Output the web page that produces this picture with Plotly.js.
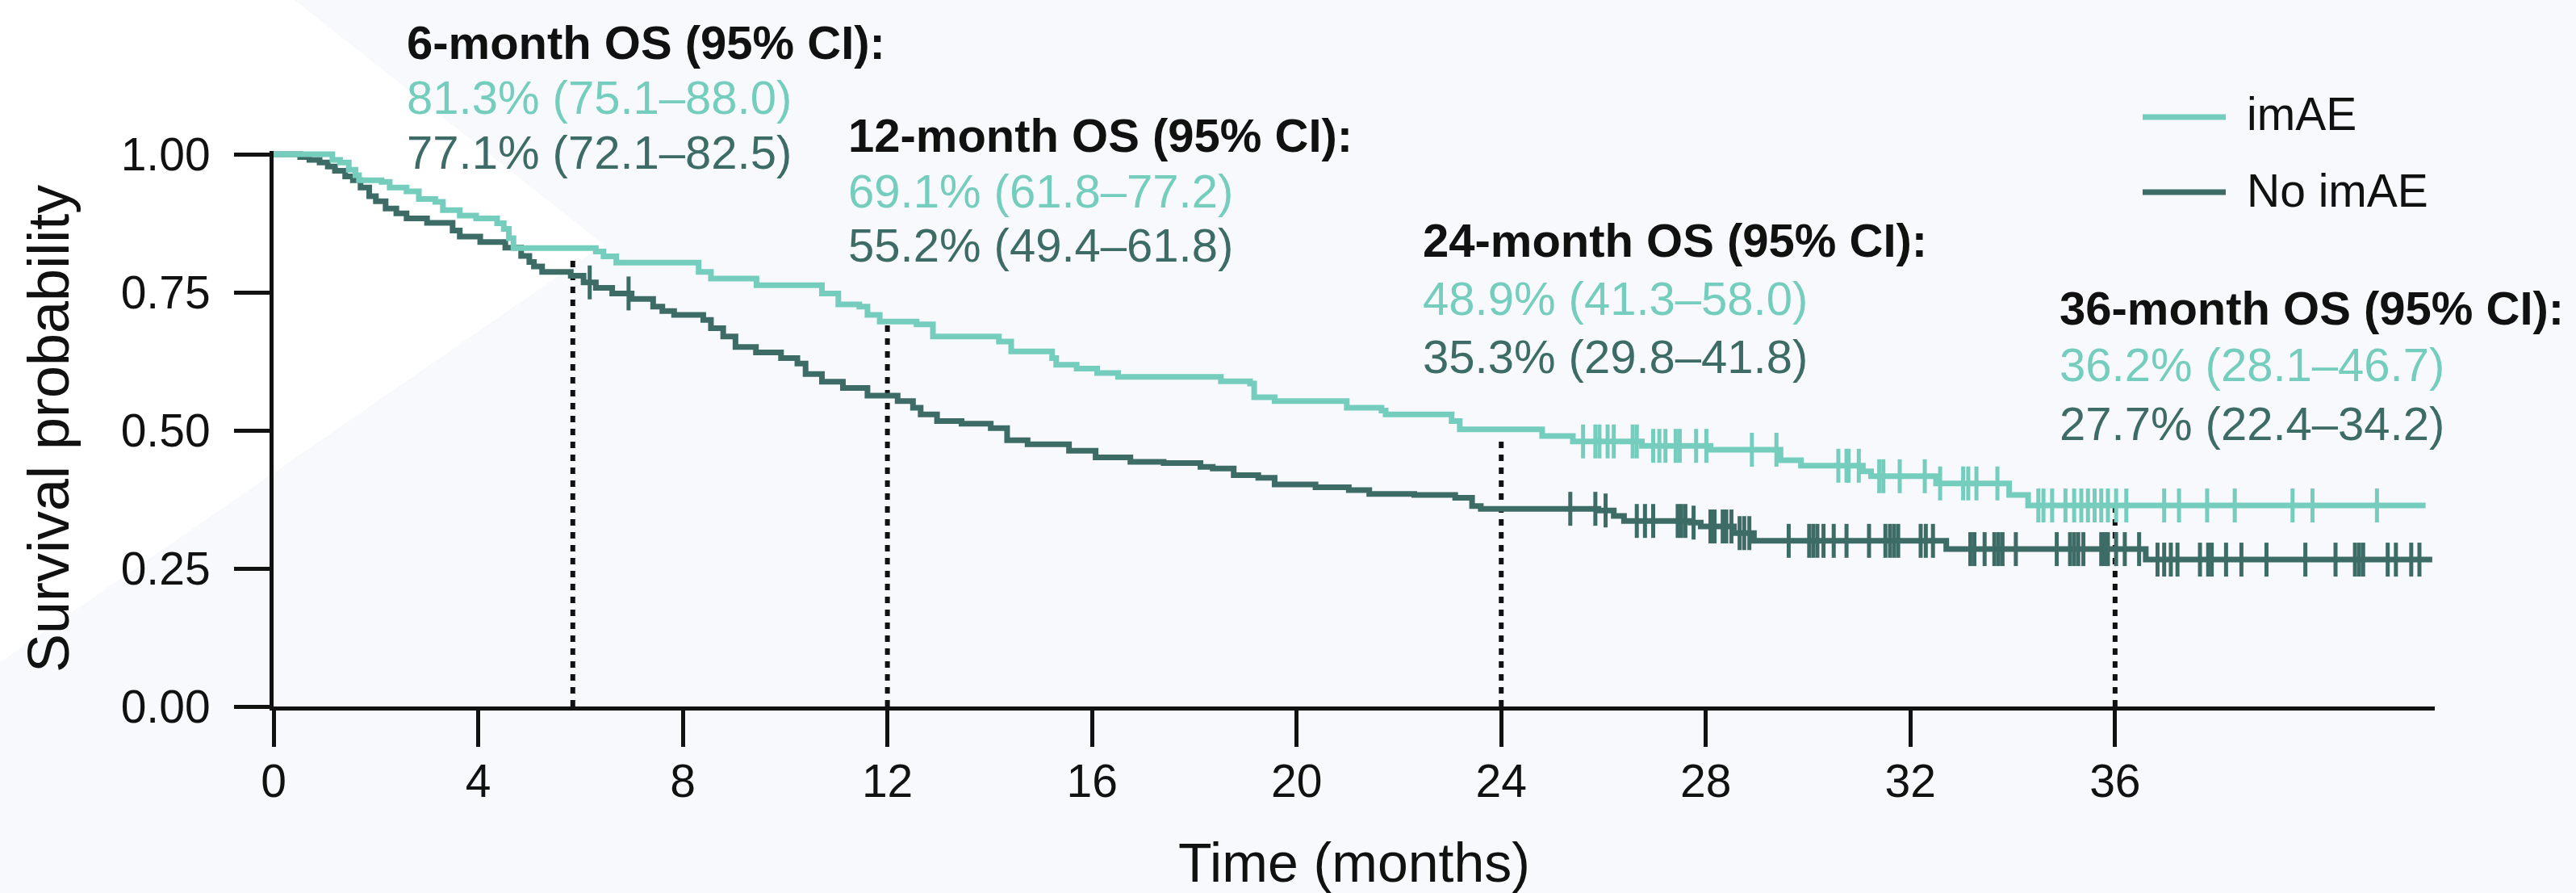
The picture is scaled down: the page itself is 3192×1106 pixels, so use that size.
<!DOCTYPE html>
<html>
<head>
<meta charset="utf-8">
<script src="https://cdn.plot.ly/plotly-3.0.1.min.js"></script>
<style>
  html, body { margin: 0; padding: 0; background: #f8f9fc; }
  #chart { width: 3192px; height: 1106px; }
</style>
</head>
<body>
<div id="chart"></div>
<script>
// ---------------- DATA ----------------
const xTickVals = [0, 4, 8, 12, 16, 20, 24, 28, 32, 36];
const xTickText = ['0', '4', '8', '12', '16', '20', '24', '28', '32', '36'];
const yTickVals = [0, 0.25, 0.5, 0.75, 1.0];
const yTickText = ['0.00', '0.25', '0.50', '0.75', '1.00'];

const seriesNames = ['imAE', 'No imAE'];

// Kaplan-Meier step points, imAE
const imaeTime = [0, 1.15, 1.3, 1.47, 1.6, 1.67, 2.11, 2.27, 2.6, 2.84, 3.16, 3.31, 3.64, 3.96, 4.37, 4.5, 4.6, 4.69,
  6.3, 6.45, 6.7, 8.31, 8.55, 9.44, 10.72, 11.04, 11.45, 11.61, 11.85, 12.57, 12.89, 14.18, 14.42, 15.22, 15.3, 15.7,
  16.1, 16.51, 18.52, 19.09, 19.17, 19.57, 20.98, 21.66, 21.74, 23.03, 23.19, 24.8, 25.4, 26.75, 28.09, 29.46, 29.86,
  31.07, 31.23, 32.5, 33.93, 34.3, 42.07];
const imaeSurv = [1.0, 0.99, 0.985, 0.972, 0.962, 0.953, 0.950, 0.940, 0.933, 0.919, 0.914, 0.899, 0.889, 0.884, 0.875, 0.865, 0.848, 0.830,
  0.824, 0.815, 0.804, 0.787, 0.775, 0.763, 0.748, 0.728, 0.724, 0.709, 0.697, 0.692, 0.670, 0.661, 0.643, 0.631, 0.619, 0.612,
  0.604, 0.597, 0.589, 0.585, 0.560, 0.553, 0.541, 0.536, 0.529, 0.517, 0.502, 0.490, 0.480, 0.472, 0.465, 0.446, 0.436,
  0.426, 0.417, 0.404, 0.383, 0.364, 0.364];

// Kaplan-Meier step points, No imAE
const noimaeTime = [0, 0.52, 0.7, 0.9, 1.06, 1.2, 1.4, 1.55, 1.7, 1.87, 2.0, 2.19, 2.4, 2.6, 3.0, 3.5, 3.64, 4.04, 4.53, 4.84,
  5.0, 5.09, 5.25, 5.81, 6.06, 6.3, 6.62, 7.0, 7.42, 7.6, 7.83, 8.4, 8.55, 8.79, 9.03, 9.43, 9.92, 10.24, 10.4, 10.72,
  11.13, 11.61, 12.2, 12.5, 12.65, 12.97, 13.45, 14.02, 14.34, 14.74, 15.55, 16.07, 16.75, 17.4, 18.12, 18.36, 18.77, 19.25, 19.57, 20.37,
  21.02, 21.42, 22.3, 23.1, 23.43, 23.6, 25.9, 26.2, 26.4, 27.7, 27.9, 28.55, 28.94, 32.7, 36.6, 42.2];
const noimaeSurv = [1.0, 0.995, 0.99, 0.985, 0.978, 0.970, 0.960, 0.953, 0.940, 0.924, 0.915, 0.902, 0.893, 0.884, 0.876, 0.862, 0.851, 0.841, 0.831, 0.816,
  0.805, 0.797, 0.787, 0.780, 0.768, 0.758, 0.748, 0.738, 0.724, 0.716, 0.709, 0.700, 0.685, 0.670, 0.651, 0.641, 0.631, 0.621, 0.602, 0.588,
  0.577, 0.563, 0.553, 0.541, 0.529, 0.517, 0.512, 0.504, 0.482, 0.475, 0.463, 0.451, 0.443, 0.441, 0.434, 0.431, 0.419, 0.414, 0.402, 0.397,
  0.392, 0.385, 0.383, 0.378, 0.363, 0.358, 0.355, 0.345, 0.336, 0.333, 0.326, 0.314, 0.300, 0.285, 0.266, 0.266];

// Censoring marks, imAE
const imaeCensorTime = [25.6, 25.84, 25.92, 26.08, 26.2, 26.57, 26.65,
  26.97, 27.09, 27.21, 27.41, 27.49, 27.81, 28.01,
  28.9, 29.38,
  30.59, 30.75, 30.79, 30.99,
  31.39, 31.47, 31.79, 32.28,
  32.58, 33.03, 33.13, 33.29, 33.7,
  34.5, 34.6, 34.77, 35.03, 35.2, 35.34, 35.47, 35.6, 35.73, 35.86, 36.02, 36.22,
  36.96, 37.25, 37.8, 38.34, 39.47, 39.86, 41.12];
const imaeCensorSurv = [0.480, 0.480, 0.480, 0.480, 0.480, 0.480, 0.480,
  0.472, 0.472, 0.472, 0.472, 0.472, 0.472, 0.472,
  0.465, 0.465,
  0.436, 0.436, 0.436, 0.436,
  0.417, 0.417, 0.417, 0.417,
  0.404, 0.404, 0.404, 0.404, 0.404,
  0.364, 0.364, 0.364, 0.364, 0.364, 0.364, 0.364, 0.364, 0.364, 0.364, 0.364, 0.364,
  0.364, 0.364, 0.364, 0.364, 0.364, 0.364, 0.364];

// Censoring marks, No imAE
const noimaeCensorTime = [6.18, 6.94,
  25.35, 25.84, 26.04,
  26.65, 26.81, 26.97, 27.45, 27.52, 27.6,
  27.76,
  28.09, 28.13, 28.17, 28.33, 28.4, 28.5,
  28.66, 28.75, 28.85,
  29.62, 30.02, 30.1, 30.18, 30.3, 30.5, 30.75, 31.19, 31.51, 31.6, 31.68, 31.76, 32.2, 32.3, 32.44,
  33.17, 33.25, 33.45, 33.64, 33.72, 33.8, 34.06, 34.86, 35.12, 35.2, 35.28, 35.38, 35.73, 35.8, 35.86, 36.02, 36.19, 36.47,
  36.83, 36.96, 37.09, 37.22, 37.66, 37.82, 37.89, 38.17, 38.47, 38.96, 39.72, 40.31, 40.69, 40.77, 40.85, 41.33, 41.49, 41.79, 41.95];
const noimaeCensorSurv = [0.768, 0.748,
  0.358, 0.358, 0.355,
  0.336, 0.336, 0.336, 0.336, 0.336, 0.336,
  0.333,
  0.326, 0.326, 0.326, 0.326, 0.326, 0.326,
  0.314, 0.314, 0.314,
  0.300, 0.300, 0.300, 0.300, 0.300, 0.300, 0.300, 0.300, 0.300, 0.300, 0.300, 0.300, 0.300, 0.300, 0.300,
  0.285, 0.285, 0.285, 0.285, 0.285, 0.285, 0.285, 0.285, 0.285, 0.285, 0.285, 0.285, 0.285, 0.285, 0.285, 0.285, 0.285, 0.285,
  0.266, 0.266, 0.266, 0.266, 0.266, 0.266, 0.266, 0.266, 0.266, 0.266, 0.266, 0.266, 0.266, 0.266, 0.266, 0.266, 0.266, 0.266, 0.266];

// Landmark OS estimates (%), with 95% CI
const landmarkLabels = ['6-month', '12-month', '24-month', '36-month'];
const landmarkLineTime = [5.85, 12, 24, 36];
const imaeOS = [81.3, 69.1, 48.9, 36.2];
const imaeLo = [75.1, 61.8, 41.3, 28.1];
const imaeHi = [88.0, 77.2, 58.0, 46.7];
const noimaeOS = [77.1, 55.2, 35.3, 27.7];
const noimaeLo = [72.1, 49.4, 29.8, 22.4];
const noimaeHi = [82.5, 61.8, 41.8, 34.2];

// ---------------- STYLE / LAYOUT ----------------
const W = 3192, H = 1106;
const M = { l: 339, r: 175, t: 187, b: 231 };
const PW = W - M.l - M.r, PH = H - M.t - M.b;
const px2x = p => (p - M.l) / PW;
const px2y = p => (H - M.b - p) / PH;

const FONT = 'Liberation Sans, Arial, Helvetica, sans-serif';
const INK = '#111111';
const LIGHT = '#74cdbd';
const DARK = '#3d6c66';

// annotation group positions (pixels): left x, baselines of 3 lines
const groupLeft = [503, 1050, 1762, 2551];
const baseHead = [71, 186, 316, 400];
const baseImae = [139, 255, 388, 470];
const baseNo = [207, 322, 460, 543];
const ANN = 58;
const topFromBase = (b, f) => b - 0.905 * f - 1;

const fmt = v => v.toFixed(1);

const traces = [];

// dotted landmark lines
const dx = [], dy = [];
landmarkLineTime.forEach((t, i) => { dx.push(t, t, null); dy.push(0, imaeOS[i] / 100, null); });
traces.push({
  type: 'scatter', mode: 'lines', x: dx, y: dy, showlegend: false, hoverinfo: 'skip',
  line: { color: INK, width: 6, dash: '8px,8px' }
});

traces.push({
  type: 'scatter', mode: 'lines', name: seriesNames[1], x: noimaeTime, y: noimaeSurv,
  line: { color: DARK, width: 7, shape: 'hv' }, showlegend: false
});
traces.push({
  type: 'scatter', mode: 'lines', name: seriesNames[0], x: imaeTime, y: imaeSurv,
  line: { color: LIGHT, width: 7, shape: 'hv' }, showlegend: false
});
traces.push({
  type: 'scatter', mode: 'markers', name: seriesNames[1] + ' censored', x: noimaeCensorTime, y: noimaeCensorSurv,
  marker: { symbol: 'line-ns', size: 30, color: DARK, line: { color: DARK, width: 5 } }, showlegend: false
});
traces.push({
  type: 'scatter', mode: 'markers', name: seriesNames[0] + ' censored', x: imaeCensorTime, y: imaeCensorSurv,
  marker: { symbol: 'line-ns', size: 30, color: LIGHT, line: { color: LIGHT, width: 5 } }, showlegend: false
});

const annotations = [];
landmarkLabels.forEach((lab, i) => {
  const x = px2x(groupLeft[i] - 1);
  annotations.push({
    text: '<b>' + lab + ' OS (95% CI):</b>', x: x, y: px2y(topFromBase(baseHead[i], ANN)),
    xref: 'paper', yref: 'paper', xanchor: 'left', yanchor: 'top', showarrow: false,
    font: { family: FONT, size: ANN, color: INK }
  });
  annotations.push({
    text: fmt(imaeOS[i]) + '% (' + fmt(imaeLo[i]) + '\u2013' + fmt(imaeHi[i]) + ')', x: x, y: px2y(topFromBase(baseImae[i], ANN)),
    xref: 'paper', yref: 'paper', xanchor: 'left', yanchor: 'top', showarrow: false,
    font: { family: FONT, size: ANN, color: LIGHT }
  });
  annotations.push({
    text: fmt(noimaeOS[i]) + '% (' + fmt(noimaeLo[i]) + '\u2013' + fmt(noimaeHi[i]) + ')', x: x, y: px2y(topFromBase(baseNo[i], ANN)),
    xref: 'paper', yref: 'paper', xanchor: 'left', yanchor: 'top', showarrow: false,
    font: { family: FONT, size: ANN, color: DARK }
  });
});

// manual legend
const LEG = 57;
const legLineX = [2655, 2758], legTextX = 2783;
const legLineY = [145, 238], legBase = [160, 255];
const legColors = [LIGHT, DARK];
const shapes = [];
// decorative white wedge on light background
const wedge = [[0, 0], [365, 0], [748, 303], [0, 820]];
shapes.push({
  type: 'path', xref: 'paper', yref: 'paper', layer: 'below',
  path: 'M' + wedge.map(p => px2x(p[0]) + ',' + px2y(p[1])).join(' L') + ' Z',
  fillcolor: '#ffffff', line: { width: 0 }
});
seriesNames.forEach((n, i) => {
  shapes.push({
    type: 'line', xref: 'paper', yref: 'paper',
    x0: px2x(legLineX[0]), x1: px2x(legLineX[1]), y0: px2y(legLineY[i]), y1: px2y(legLineY[i]),
    line: { color: legColors[i], width: 7 }
  });
  annotations.push({
    text: n, x: px2x(legTextX - 1), y: px2y(topFromBase(legBase[i], LEG)),
    xref: 'paper', yref: 'paper', xanchor: 'left', yanchor: 'top', showarrow: false,
    font: { family: FONT, size: LEG, color: INK }
  });
});

const layout = {
  width: W, height: H,
  margin: { l: M.l, r: M.r, t: M.t, b: M.b, pad: 0 },
  paper_bgcolor: '#f8f9fc', plot_bgcolor: 'rgba(0,0,0,0)',
  font: { family: FONT, color: INK },
  showlegend: false,
  xaxis: {
    range: [0, 42.25], tickmode: 'array', tickvals: xTickVals, ticktext: xTickText,
    ticks: 'outside', ticklen: 45, tickwidth: 5, tickcolor: INK,
    showline: true, linecolor: INK, linewidth: 5, showgrid: false, zeroline: false,
    tickfont: { family: FONT, size: 57, color: INK }, ticklabelstandoff: -6,
    title: { text: 'Time (months)', font: { family: FONT, size: 68, color: INK }, standoff: 60 }
  },
  yaxis: {
    range: [0, 1.006], tickmode: 'array', tickvals: yTickVals, ticktext: yTickText,
    ticks: 'outside', ticklen: 44, tickwidth: 5, tickcolor: INK,
    showline: true, linecolor: INK, linewidth: 5, showgrid: false, zeroline: false,
    tickfont: { family: FONT, size: 57, color: INK }, ticklabelstandoff: 18,
    title: { text: 'Survival probability', font: { family: FONT, size: 72, color: INK }, standoff: 42 }
  },
  annotations: annotations,
  shapes: shapes
};

Plotly.newPlot('chart', traces, layout, { displayModeBar: false, responsive: false });
</script>
</body>
</html>
